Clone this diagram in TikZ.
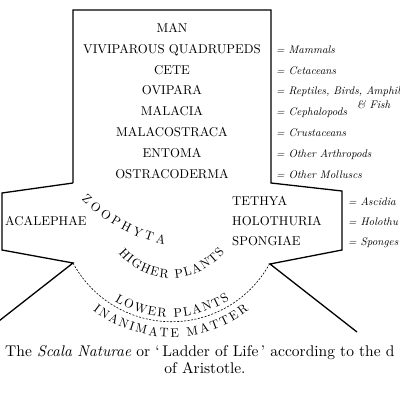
\documentclass[tikz,border=0pt]{standalone}
\usepackage{fontspec}
\setmainfont{lmroman10-regular.otf}[ItalicFont=lmroman10-italic.otf]
\usetikzlibrary{decorations.text}
\begin{document}
\begin{tikzpicture}[x=1pt,y=1pt,
    rank/.style={font=\fontsize{12.8}{15}\selectfont, anchor=base, inner sep=0pt},
    note/.style={font=\fontsize{11}{13}\selectfont\itshape, anchor=base west, inner sep=0pt},
    caption/.style={font=\fontsize{15.5}{17}\selectfont, anchor=base, inner sep=0pt},
    rim/.style={line width=1.3pt, line join=miter},
    arctext/.style={decorate, decoration={text along path, text align={fit to path},
      text={|\fontsize{12.5}{15}\selectfont|#1}}}]
  \useasboundingbox (0,0) rectangle (400,400);
  \clip (0,0) rectangle (400,400);

  % Outline of the ladder
  \draw[rim] (73,217) -- (73,390) -- (271,390) -- (271,217) -- (342,209)
    -- (342,150) -- (270,136) -- (357,68);
  \draw[rim] (73,217) -- (2,207) -- (2,150) -- (73,137) -- (-10,72);

  % Dashed line between plants and matter
  \draw[dash pattern=on 2pt off 1.5pt, line width=0.6pt]
    (73,137) arc[start angle=208.4, end angle=331.8, radius=112];

  % Ranks of animals
  \foreach \name [count=\i from 0] in {MAN, VIVIPAROUS QUADRUPEDS, CETE, OVIPARA,
      MALACIA, MALACOSTRACA, ENTOMA, OSTRACODERMA}
    \node[rank] (rank\i) at (172, 367.5-20.8*\i) {\name};

  % Modern names
  \foreach \i/\note in {1/Mammals, 2/Cetaceans, 3/{Reptiles, Birds, Amphib},
      4/Cephalopods, 5/Crustaceans, 6/Other Arthropods, 7/Other Molluscs}
    \node[note] (note\i) at (276, 367.5-20.8*\i) {= \note};
  \node[note] (fish) at (357,291) {\& Fish};

  % Wide rung
  \node[rank, anchor=base west] (acalephae) at (5,174.5) {ACALEPHAE};
  \node[rank, anchor=base west] (tethya) at (232,194.5) {TETHYA};
  \node[rank, anchor=base west] (holothuria) at (232,174.5) {HOLOTHURIA};
  \node[rank, anchor=base west] (spongiae) at (232,154.5) {SPONGIAE};
  \node[note] (ascidia) at (348,194.5) {= Ascidia};
  \node[note] (holothu) at (348,174.5) {= Holothu};
  \node[note] (sponges) at (348,154.5) {= Sponges};

  % Curved labels
  \path[arctext=ZOOPHYTA] (201,320) ++(225:169) arc[start angle=225, end angle=257.5, radius=169];
  \path[arctext=HIGHER PLANTS] (171,190) ++(219.5:68) arc[start angle=219.5, end angle=322, radius=68];
  \path[arctext=LOWER PLANTS] (171,190) ++(238.3:107) arc[start angle=238.3, end angle=303.2, radius=107];
  \path[arctext=INANIMATE MATTER] (171,190) ++(232:127) arc[start angle=232, end angle=307.7, radius=127];

  % Caption
  \node[caption, anchor=base west] (cap1) at (5,44)
    {The \textit{Scala Naturae} or `\,Ladder of Life\,' according to the d};
  \node[caption] (cap2) at (205,27) {of Aristotle.};
\end{tikzpicture}
\end{document}
